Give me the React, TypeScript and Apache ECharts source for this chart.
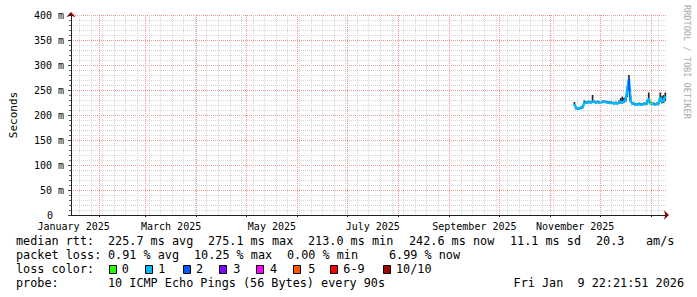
import React, { useEffect, useRef } from 'react';
import * as echarts from 'echarts';

const DAY = 86400000;
const END_TIME = Date.UTC(2026, 0, 9, 22, 21, 51);
const SPAN_DAYS = 360;
const START_TIME = END_TIME - SPAN_DAYS * DAY;
const FIRST_SAMPLE = Date.UTC(2025, 10, 15, 12);

// daily medians, Nov 15 2025 .. Jan 9 2026 (ms)
const medianRtt = [
  222, 214, 213, 213, 214, 216,
  224, 225, 225, 226, 225, 227, 226, 225, 226, 225,
  225, 226, 226, 226, 225, 225, 224, 224, 223, 224,
  223, 225, 226, 225, 227, 230, 250, 273, 229, 223,
  222, 221, 221, 222, 221, 221, 222, 222, 224, 233, 223,
  222, 222, 221, 222, 223, 236, 226, 229, 238,
];
const smokeMax = [
  226, 217, 216, 216, 217, 219,
  229, 228, 228, 229, 228, 240, 229, 228, 229, 228,
  228, 229, 229, 229, 228, 228, 227, 227, 226, 227,
  226, 229, 234, 237, 234, 236, 257, 280, 238, 226,
  225, 224, 224, 225, 224, 224, 225, 225, 230, 245, 226,
  225, 225, 224, 225, 228, 245, 238, 240, 245,
];
const smokeMin = [
  220, 211, 211, 211, 212, 213,
  222, 223, 223, 224, 223, 224, 224, 223, 224, 223,
  223, 224, 224, 224, 223, 223, 222, 222, 221, 222,
  221, 223, 223, 223, 224, 226, 236, 252, 225, 221,
  220, 219, 219, 220, 219, 219, 220, 220, 221, 225, 221,
  220, 220, 219, 220, 221, 226, 223, 224, 228,
];
const lossBucket = [
  1, 1, 1, 1, 1, 1,
  1, 1, 1, 1, 1, 1, 1, 1, 1, 1,
  1, 1, 1, 1, 1, 1, 1, 1, 1, 1,
  1, 1, 1, 1, 1, 1, 1, 2, 1, 1,
  1, 1, 1, 1, 1, 1, 1, 1, 1, 1, 0,
  1, 1, 1, 1, 1, 1, 1, 1, 1,
];

const lossColors = ['#26ff00', '#00b8ff', '#0059ff', '#7e00ff', '#ff00ff', '#ff5500', '#ff0000', '#a10000'];
const lossLabels = ['0', '1', '2', '3', '4', '5', '6-9', '10/10'];

const monthLabelKeys = ['2025-01', '2025-03', '2025-05', '2025-07', '2025-09', '2025-11'];
const monthLabelTexts = ['January 2025', 'March 2025', 'May 2025', 'July 2025', 'September 2025', 'November 2025'];

const rttStats = ['225.7 ms avg', '275.1 ms max', '213.0 ms min', '242.6 ms now', '11.1 ms sd', '20.3', 'am/s'];
const lossStats = ['0.91 % avg', '10.25 % max', '0.00 % min', '6.99 % now'];
const probeText = '10 ICMP Echo Pings (56 Bytes) every 90s';
const stampText = 'Fri Jan  9 22:21:51 2026';

const MONO = '"DejaVu Sans Mono", monospace';

export default function App() {
  const ref = useRef<HTMLDivElement>(null);
  useEffect(() => {
    if (!ref.current) return;
    const chart = echarts.init(ref.current, null, { renderer: 'svg' });

    const times = medianRtt.map((_, i) => FIRST_SAMPLE + i * DAY);

    const monthStarts: number[] = [];
    for (let y = 2024; y <= 2026; y++) {
      for (let m = 0; m < 12; m++) {
        const t = Date.UTC(y, m, 1);
        if (t > START_TIME && t < END_TIME) monthStarts.push(t);
      }
    }
    const mondays: number[] = [];
    const d0 = Math.floor(START_TIME / DAY) * DAY;
    for (let t = d0; t < END_TIME; t += DAY) {
      if (t > START_TIME && new Date(t).getUTCDay() === 1) mondays.push(t);
    }
    const labelTimes = monthLabelKeys.map((k) => {
      const [y, m] = k.split('-').map(Number);
      return (Date.UTC(y, m - 1, 1) + Date.UTC(y, m, 1)) / 2;
    });
    const labelFor = (v: number) => {
      let best = 0;
      let bd = Infinity;
      labelTimes.forEach((t, i) => {
        const d = Math.abs(t - v);
        if (d < bd) { bd = d; best = i; }
      });
      return monthLabelTexts[best];
    };

    const pieces: any[] = [];
    let segStart = START_TIME - DAY;
    for (let i = 0; i < lossBucket.length; i++) {
      if (i === lossBucket.length - 1 || lossBucket[i + 1] !== lossBucket[i]) {
        const segEnd = i === lossBucket.length - 1 ? END_TIME + DAY : times[i] + DAY / 2;
        pieces.push({ gte: segStart, lt: segEnd, color: lossColors[lossBucket[i]] });
        segStart = segEnd;
      }
    }

    const txt = (text: string, x: number, y: number, extra: any = {}) => ({
      type: 'text',
      x,
      y,
      silent: true,
      style: { text, font: `11.8px ${MONO}`, fill: '#000', align: 'left', verticalAlign: 'middle', ...extra },
    });

    const rttX = [108, 208, 308, 409, 510, 596, 646];
    const lossX = [108, 194, 287, 389];
    const swatchX = [109, 145, 182.7, 219, 256, 292.7, 330, 383.3];
    const swatchLabelX = [121.7, 158.3, 196, 233.3, 270, 308.3, 343.3, 396];

    const graphics: any[] = [
      txt('median rtt:', 16, 241),
      ...rttStats.map((s, i) => txt(s, rttX[i], 241)),
      txt('packet loss:', 16, 255),
      ...lossStats.map((s, i) => txt(s, lossX[i], 255)),
      txt('loss color:', 16, 269),
      ...lossColors.map((c, i) => ({
        type: 'rect',
        silent: true,
        shape: { x: Math.round(swatchX[i]) + 0.5, y: 265.5, width: 7, height: 8 },
        style: { fill: c, stroke: '#000', lineWidth: 1 },
      })),
      ...lossLabels.map((s, i) => txt(s, swatchLabelX[i], 269)),
      txt('probe:', 16, 283),
      txt(probeText, 108, 283),
      txt(stampText, 684, 283, { align: 'right' }),
      {
        type: 'text',
        x: 686.5,
        y: 5,
        rotation: -Math.PI / 2,
        silent: true,
        style: { text: 'RRDTOOL / TOBI OETIKER', font: `8.6px ${MONO}`, fill: '#aaaaaa', align: 'left', verticalAlign: 'middle' },
      },
    ];

    const minorGrid = { color: '#d6d6d6', type: [1, 1], width: 1 };
    const majorGrid = { color: '#ec9696', type: [1, 1], width: 1 };

    const option: any = {
      animation: false,
      backgroundColor: '#ffffff',
      grid: { left: 66, right: 31, top: 15, bottom: 82 },
      xAxis: [
        {
          type: 'value',
          position: 'bottom',
          min: START_TIME,
          max: END_TIME,
          axisLine: {
            show: true,
            onZero: false,
            lineStyle: { color: '#8b0000', width: 1 },
            symbol: ['none', 'arrow'],
            symbolSize: [7, 5],
            symbolOffset: [0, 3],
          },
          axisTick: { show: false, customValues: mondays },
          axisLabel: { show: false },
          splitLine: { show: true, lineStyle: minorGrid },
        },
        {
          type: 'value',
          position: 'bottom',
          min: START_TIME,
          max: END_TIME,
          z: 5,
          axisLine: { show: true, onZero: false, lineStyle: { color: '#202020', width: 1 } },
          axisTick: { show: true, customValues: monthStarts, length: 2, lineStyle: { color: '#202020' } },
          axisLabel: {
            show: true,
            customValues: labelTimes,
            formatter: (v: number) => labelFor(v),
            margin: 6,
            fontFamily: MONO,
            fontSize: 10,
            color: '#000',
            hideOverlap: false,
          },
          splitLine: { show: true, lineStyle: majorGrid },
        },
      ],
      yAxis: [
        {
          type: 'value',
          min: 0,
          max: 400,
          interval: 50,
          position: 'left',
          axisLine: {
            show: true,
            onZero: false,
            lineStyle: { color: '#8b0000', width: 1 },
            symbol: ['none', 'arrow'],
            symbolSize: [7, 5],
            symbolOffset: [0, 3],
          },
          axisTick: { show: true, length: 3, lineStyle: { color: '#444' } },
          minorTick: { show: true, splitNumber: 5, length: 2, lineStyle: { color: '#666' } },
          axisLabel: {
            margin: 7,
            fontFamily: MONO,
            fontSize: 10,
            color: '#000',
            formatter: (v: number) => (v === 0 ? '{z|0}' : `${v} m`),
            rich: { z: { fontFamily: MONO, fontSize: 10, color: '#000', padding: [0, 11, 0, 0] } },
          },
          splitLine: { show: true, lineStyle: majorGrid },
          minorSplitLine: { show: true, lineStyle: minorGrid },
          name: 'Seconds',
          nameLocation: 'middle',
          nameGap: 52,
          nameRotate: 90,
          nameTextStyle: { fontFamily: MONO, fontSize: 11, color: '#000' },
        },
        {
          type: 'value',
          min: 0,
          max: 400,
          interval: 50,
          position: 'left',
          z: 5,
          axisLine: { show: true, onZero: false, lineStyle: { color: '#202020', width: 1 } },
          axisTick: { show: false },
          axisLabel: { show: false },
          splitLine: { show: false },
        },
      ],
      visualMap: {
        type: 'piecewise',
        show: false,
        dimension: 0,
        seriesIndex: 1,
        pieces,
        outOfRange: { color: lossColors[1] },
      },
      series: [
        {
          type: 'custom',
          name: 'smoke',
          xAxisIndex: 1,
          yAxisIndex: 0,
          silent: true,
          z: 2,
          encode: { x: 0, y: [1, 2] },
          data: times.map((t, i) => [t, smokeMin[i], smokeMax[i]]),
          renderItem: (params: any, api: any) => {
            const lo = api.coord([api.value(0), api.value(1)]);
            const hi = api.coord([api.value(0), api.value(2)]);
            const w = api.size([DAY, 0])[0];
            return {
              type: 'rect',
              shape: { x: lo[0] - w / 2, y: hi[1], width: w, height: lo[1] - hi[1] },
              style: { fill: '#262626' },
            };
          },
        },
        {
          type: 'line',
          name: 'median',
          xAxisIndex: 1,
          yAxisIndex: 0,
          data: times.map((t, i) => [t, medianRtt[i]]),
          symbol: 'none',
          silent: true,
          lineStyle: { width: 2.5 },
          z: 3,
        },
      ],
      graphic: graphics,
    };
    chart.setOption(option);
    return () => chart.dispose();
  }, []);
  return <div ref={ref} style={{ position: 'fixed', left: 0, top: 0, width: 697, height: 297, background: '#fff' }} />;
}
